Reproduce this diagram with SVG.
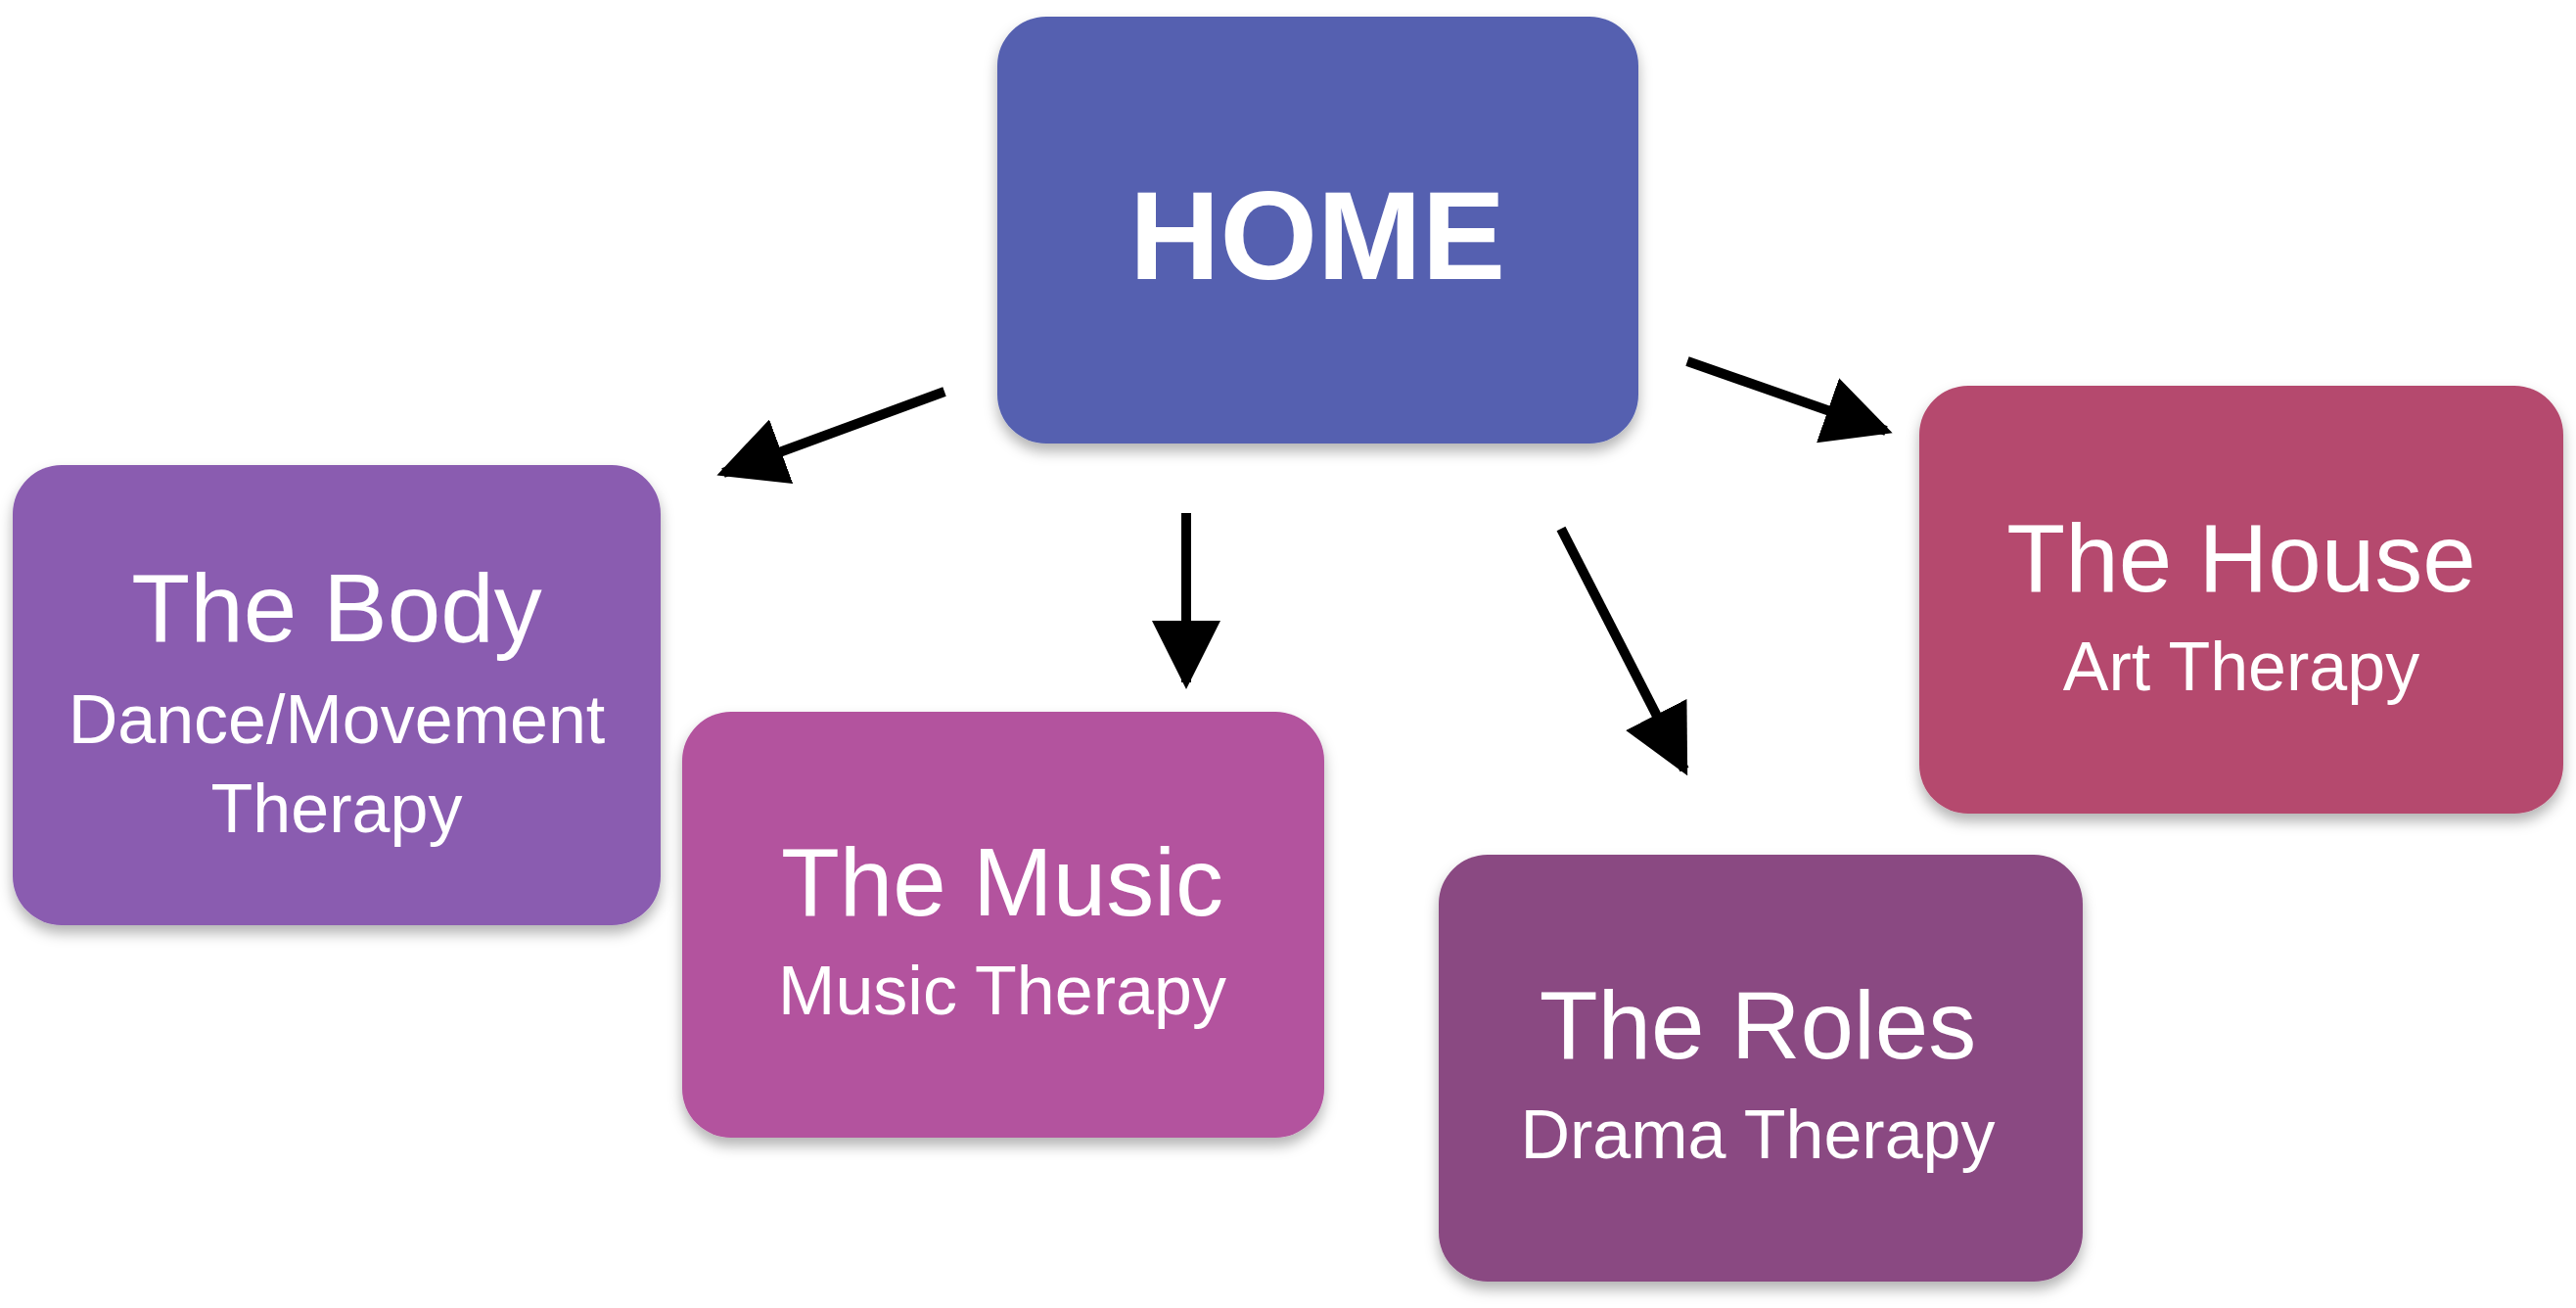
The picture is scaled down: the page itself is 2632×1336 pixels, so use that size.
<svg xmlns="http://www.w3.org/2000/svg" width="2632" height="1336" viewBox="0 0 2632 1336">
<defs>
<filter id="sh" x="-10%" y="-10%" width="120%" height="125%"><feDropShadow dx="0" dy="8" stdDeviation="7" flood-color="#000" flood-opacity="0.3"/></filter>
<marker id="ah" viewBox="0 0 10 10" refX="9" refY="5" markerWidth="7" markerHeight="7" orient="auto" markerUnits="strokeWidth"><path d="M0,0 L10,5 L0,10 z" fill="#000"/></marker>
</defs>
<style>
.n{filter:url(#sh)}
.t{font-family:"Liberation Sans",Arial,sans-serif;fill:#fff;text-anchor:middle}
.h{font-size:98px}
.s{font-size:70px}
.c{stroke:#000;stroke-width:10;fill:none;marker-end:url(#ah)}
</style>
<rect width="2632" height="1336" fill="#fff"/>
<g id="home"><rect class="n" x="1019" y="17" width="655" height="436" rx="50" fill="#5461b0"/><text class="t" x="1346" y="285" font-size="128" font-weight="bold">HOME</text></g>
<g id="body"><rect class="n" x="13" y="475" width="662" height="470" rx="50" fill="#8a5bb0"/><text class="t h" x="344" y="655">The Body</text><text class="t s" x="344" y="759">Dance/Movement</text><text class="t s" x="344" y="850">Therapy</text></g>
<g id="music"><rect class="n" x="697" y="727" width="656" height="435" rx="50" fill="#b3529e"/><text class="t h" x="1024" y="935">The Music</text><text class="t s" x="1024" y="1036">Music Therapy</text></g>
<g id="roles"><rect class="n" x="1470" y="873" width="658" height="436" rx="50" fill="#8a4a82"/><text class="t h" x="1796" y="1081">The Roles</text><text class="t s" x="1796" y="1183">Drama Therapy</text></g>
<g id="house"><rect class="n" x="1961" y="394" width="658" height="437" rx="50" fill="#b54a6e"/><text class="t h" x="2290" y="604">The House</text><text class="t s" x="2290" y="705">Art Therapy</text></g>
<g id="connectors">
<line class="c" x1="965" y1="400" x2="739" y2="483"/>
<line class="c" x1="1212" y1="524" x2="1212" y2="697"/>
<line class="c" x1="1595" y1="540" x2="1721" y2="786"/>
<line class="c" x1="1724" y1="369" x2="1927" y2="440"/>
</g>
</svg>
